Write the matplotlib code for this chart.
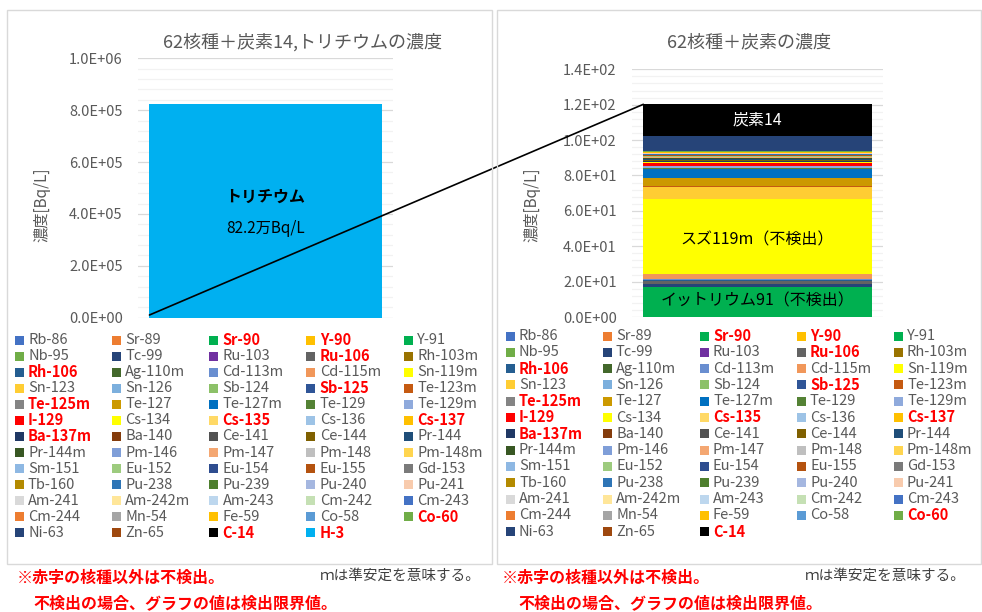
import matplotlib
matplotlib.use('Agg')
import matplotlib.pyplot as plt
from matplotlib.patches import Rectangle, ConnectionPatch
from matplotlib.ticker import MultipleLocator, FuncFormatter
import numpy as np

plt.rcParams['font.family'] = ['Noto Sans CJK JP', 'DejaVu Sans']

# nuclides in stacking order (bottom -> top), values in Bq/L
nuclides = ['Rb-86', 'Sr-89', 'Sr-90', 'Y-90', 'Y-91',
            'Nb-95', 'Tc-99', 'Ru-103', 'Ru-106', 'Rh-103m',
            'Rh-106', 'Ag-110m', 'Cd-113m', 'Cd-115m', 'Sn-119m',
            'Sn-123', 'Sn-126', 'Sb-124', 'Sb-125', 'Te-123m',
            'Te-125m', 'Te-127', 'Te-127m', 'Te-129', 'Te-129m',
            'I-129', 'Cs-134', 'Cs-135', 'Cs-136', 'Cs-137',
            'Ba-137m', 'Ba-140', 'Ce-141', 'Ce-144', 'Pr-144',
            'Pr-144m', 'Pm-146', 'Pm-147', 'Pm-148', 'Pm-148m',
            'Sm-151', 'Eu-152', 'Eu-154', 'Eu-155', 'Gd-153',
            'Tb-160', 'Pu-238', 'Pu-239', 'Pu-240', 'Pu-241',
            'Am-241', 'Am-242m', 'Am-243', 'Cm-242', 'Cm-243',
            'Cm-244', 'Mn-54', 'Fe-59', 'Co-58', 'Co-60',
            'Ni-63', 'Zn-65', 'C-14']
values = [0.05, 0.05, 0.2, 0.2, 16.6,
          0.05, 1.3, 0.05, 1.7, 0.05,
          0.6, 0.05, 0.75, 2.45, 42.4,
          7.0, 0.05, 0.05, 0.1, 0.15,
          0.05, 4.9, 5.1, 0.2, 1.0,
          2.1, 0.15, 0.1, 0.1, 0.2,
          0.2, 0.3, 0.2, 0.5, 0.5,
          0.3, 0.1, 0.5, 0.1, 0.1,
          0.05, 0.2, 0.1, 0.4, 0.2,
          0.3, 0.05, 0.05, 0.05, 0.5,
          0.05, 0.05, 0.05, 0.05, 0.05,
          0.05, 0.1, 0.2, 0.2, 0.3,
          8.7, 0.05, 17.9]
colors = ['#4472C4', '#ED7D31', '#00B050', '#FFC000', '#00B050',
          '#70AD47', '#264478', '#7030A0', '#636363', '#997300',
          '#255E91', '#43682B', '#698ED0', '#F1975A', '#FFFF00',
          '#FFCD33', '#7CAFDD', '#8CC168', '#2F5597', '#C55A11',
          '#848484', '#CC9900', '#0070C0', '#548235', '#8FAADC',
          '#FF0000', '#FFFF00', '#FFD966', '#9DC3E6', '#FFC000',
          '#203864', '#843C0C', '#525252', '#7F6000', '#1F4E79',
          '#385723', '#7F9ED8', '#F4A772', '#BFBFBF', '#FFD54F',
          '#8EB8E3', '#9DCB7E', '#2E4D8F', '#B4520F', '#7A7A7A',
          '#B38A00', '#2E75B6', '#4E7F2E', '#A5B7E0', '#F8CBAD',
          '#D9D9D9', '#FFE699', '#BDD7EE', '#C5E0B4', '#4472C4',
          '#ED7D31', '#A5A5A5', '#FFC000', '#5B9BD5', '#70AD47',
          '#264478', '#9E480E', '#000000']
detected = ['Sr-90', 'Y-90', 'Ru-106', 'Rh-106', 'Sb-125', 'Te-125m', 'I-129',
            'Cs-135', 'Cs-137', 'Ba-137m', 'Co-60', 'C-14', 'H-3']
tritium = 822000
tritium_color = '#00B0F0'

W, H = 982, 612
fig = plt.figure(figsize=(W / 100, H / 100), dpi=100)


def fx(px):
    return px / W


def fy(py):
    return 1 - py / H


def panel(x0, x1):
    fig.patches.append(Rectangle((fx(x0), fy(564)), fx(x1) - fx(x0), fy(10) - fy(564),
                                 transform=fig.transFigure, fill=False, ec='#D9D9D9', lw=1))


def make_axes(left, right, top, bottom, ymax, major, minor):
    ax = fig.add_axes([fx(left), fy(bottom), fx(right) - fx(left), fy(top) - fy(bottom)])
    ax.set_xlim(-0.5, 0.5)
    ax.set_ylim(0, ymax)
    ax.yaxis.set_major_locator(MultipleLocator(major))
    ax.yaxis.set_minor_locator(MultipleLocator(minor))
    ax.yaxis.set_major_formatter(FuncFormatter(lambda v, p: f'{v:.1E}'))
    ax.grid(axis='y', which='major', color='#D9D9D9', lw=0.9)
    ax.grid(axis='y', which='minor', color='#F2F2F2', lw=0.9)
    ax.set_axisbelow(True)
    for s in ax.spines.values():
        s.set_visible(False)
    ax.set_xticks([])
    ax.tick_params(axis='y', which='both', length=0, labelsize=10.5,
                   labelcolor='#595959', pad=11)
    return ax


def stack(ax, vals, cols):
    bottoms = np.concatenate([[0], np.cumsum(vals)[:-1]])
    ax.bar(np.zeros(len(vals)), vals, width=0.91, bottom=bottoms, color=cols, lw=0)
    return bottoms


def legend(names, cols, x0, y0, dx, dy):
    for i, (n, c) in enumerate(zip(names, cols)):
        r, k = divmod(i, 5)
        x = x0 + k * dx
        y = y0 + r * dy
        fig.patches.append(Rectangle((fx(x - 4.5), fy(y + 4.5)), fx(9), 9 / H,
                                     transform=fig.transFigure, color=c, lw=0))
        red = n in detected
        fig.text(fx(x + 9), fy(y), n, fontsize=10.5, va='center', ha='left',
                 color='#FF0000' if red else '#595959',
                 fontweight='bold' if red else 'normal')


def footer(x_note, x_m, x_line2):
    fig.text(fx(x_note), fy(578), '※赤字の核種以外は不検出。', fontsize=11.5,
             color='#FF0000', fontweight='bold', va='center')
    fig.text(fx(x_m), fy(576), 'ｍは準安定を意味する。', fontsize=10.5,
             color='#404040', va='center')
    fig.text(fx(x_line2), fy(603), '不検出の場合、グラフの値は検出限界値。', fontsize=11.5,
             color='#FF0000', fontweight='bold', va='center')


panel(7, 491.5)
panel(497, 981)

# left: all nuclides + tritium
left_names = nuclides + ['H-3']
left_vals = values + [tritium]
left_cols = colors + [tritium_color]
ax1 = make_axes(138, 393, 58.3, 317.7, 1.0e6, 2.0e5, 4.0e4)
stack(ax1, left_vals, left_cols)
ax1.text(0, tritium * 0.566, 'トリチウム', ha='center', va='center',
         fontsize=11.5, fontweight='bold', color='black')
ax1.text(0, tritium * 0.416, f'{tritium / 10000:.1f}万Bq/L', ha='center', va='center',
         fontsize=11, color='black')
fig.text(fx(302), fy(42), '62核種＋炭素14,トリチウムの濃度', ha='center', va='center',
         fontsize=13, color='#595959')
fig.text(fx(42), fy(205), '濃度[Bq/L]', rotation=90, ha='center', va='center',
         fontsize=11, color='#595959')
legend(left_names, left_cols, 19, 340, 97.3, 16.08)
footer(17, 320, 33)

# right: 62 nuclides + carbon
ax2 = make_axes(632, 883, 69.3, 317, 140, 20, 4)
b = stack(ax2, values, colors)
total = sum(values)
i_c = nuclides.index('C-14')
i_sn = nuclides.index('Sn-119m')
i_y = nuclides.index('Y-91')
ax2.text(0, b[i_c] + values[i_c] / 2, '炭素14', ha='center', va='center',
         fontsize=11.5, color='white')
ax2.text(0, b[i_sn] + values[i_sn] / 2 - 2, 'スズ119m（不検出）', ha='center', va='center',
         fontsize=11.5, color='black')
ax2.text(0, b[i_y] + values[i_y] / 2, 'イットリウム91（不検出）', ha='center', va='center',
         fontsize=11.5, color='black')
fig.text(fx(749), fy(42), '62核種＋炭素の濃度', ha='center', va='center',
         fontsize=13, color='#595959')
fig.text(fx(532), fy(205), '濃度[Bq/L]', rotation=90, ha='center', va='center',
         fontsize=11, color='#595959')
legend(nuclides, colors, 510, 336, 97, 16.3)
footer(502, 805, 518)

# zoom line from tritium bar to detail bar
con = ConnectionPatch(xyA=(-0.455, 1.04e4), coordsA=ax1.transData,
                      xyB=(-0.455, total), coordsB=ax2.transData,
                      color='black', lw=1.2)
fig.add_artist(con)

fig.savefig('out.png', dpi=100)
